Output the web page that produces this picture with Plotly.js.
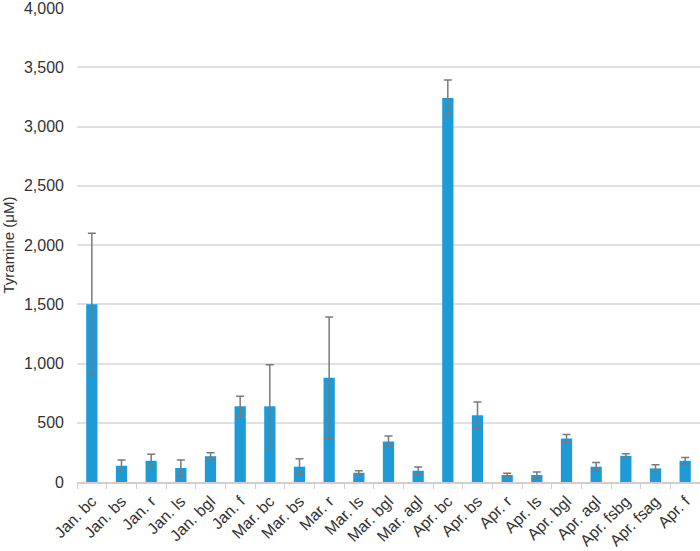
<!DOCTYPE html>
<html>
<head>
<meta charset="utf-8">
<script src="https://cdn.plot.ly/plotly-3.0.1.min.js"></script>
<style>
  html, body { margin: 0; padding: 0; background: #fff; }
  #chart { width: 700px; height: 551px; }
</style>
</head>
<body>
<div id="chart"></div>
<script>
const samples = [
  "Jan. bc", "Jan. bs", "Jan. r", "Jan. ls", "Jan. bgl", "Jan. f",
  "Mar. bc", "Mar. bs", "Mar. r", "Mar. ls", "Mar. bgl", "Mar. agl",
  "Apr. bc", "Apr. bs", "Apr. r", "Apr. ls", "Apr. bgl", "Apr. agl",
  "Apr. fsbg", "Apr. fsag", "Apr. f"
];
const tyramine = [
  1500, 137, 179, 118, 218, 639,
  639, 129, 880, 78, 342, 95,
  3240, 563, 59, 59, 367, 129,
  221, 115, 179
];
const tyramineErr = [
  600, 48, 56, 67, 28, 84,
  350, 67, 512, 17, 47, 31,
  153, 112, 14, 25, 33, 36,
  17, 31, 28
];

const font = "Liberation Sans, Arial, sans-serif";

Plotly.newPlot("chart", [
  {
    type: "bar",
    x: samples,
    y: tyramine,
    marker: { color: "#1e9bd7" },
    error_y: {
      type: "data",
      array: tyramineErr,
      visible: true,
      color: "#7a7a7a",
      thickness: 1.5,
      width: 4
    },
    hovertemplate: "%{x}: %{y}<extra></extra>"
  }
], {
  width: 700,
  height: 551,
  paper_bgcolor: "#fff",
  plot_bgcolor: "#fff",
  margin: { l: 77, r: 0, t: 8, b: 69 },
  bargap: 0.62,
  showlegend: false,
  font: { family: font, color: "#333" },
  yaxis: {
    title: { text: "Tyramine (μM)", font: { size: 15, color: "#333" }, standoff: 12 },
    range: [0, 4000.5],
    tickvals: [0, 500, 1000, 1500, 2000, 2500, 3000, 3500, 4000],
    tickformat: ",d",
    tickfont: { size: 16, color: "#333" },
    ticklabeloverflow: "allow",
    gridcolor: "#e0e0e0",
    gridwidth: 1.5,
    zeroline: false,
    showline: false,
    ticks: "",
    ticklabelstandoff: 12,
    automargin: false
  },
  xaxis: {
    tickangle: -45,
    tickfont: { size: 16, color: "#333" },
    showline: true,
    linecolor: "#cfcfcf",
    linewidth: 1.5,
    ticks: "outside",
    tickson: "boundaries",
    ticklen: 5,
    tickcolor: "#cfcfcf",
    ticklabelstandoff: 2,
    showgrid: false,
    automargin: false
  }
}, {
  displayModeBar: false
});
</script>
</body>
</html>
